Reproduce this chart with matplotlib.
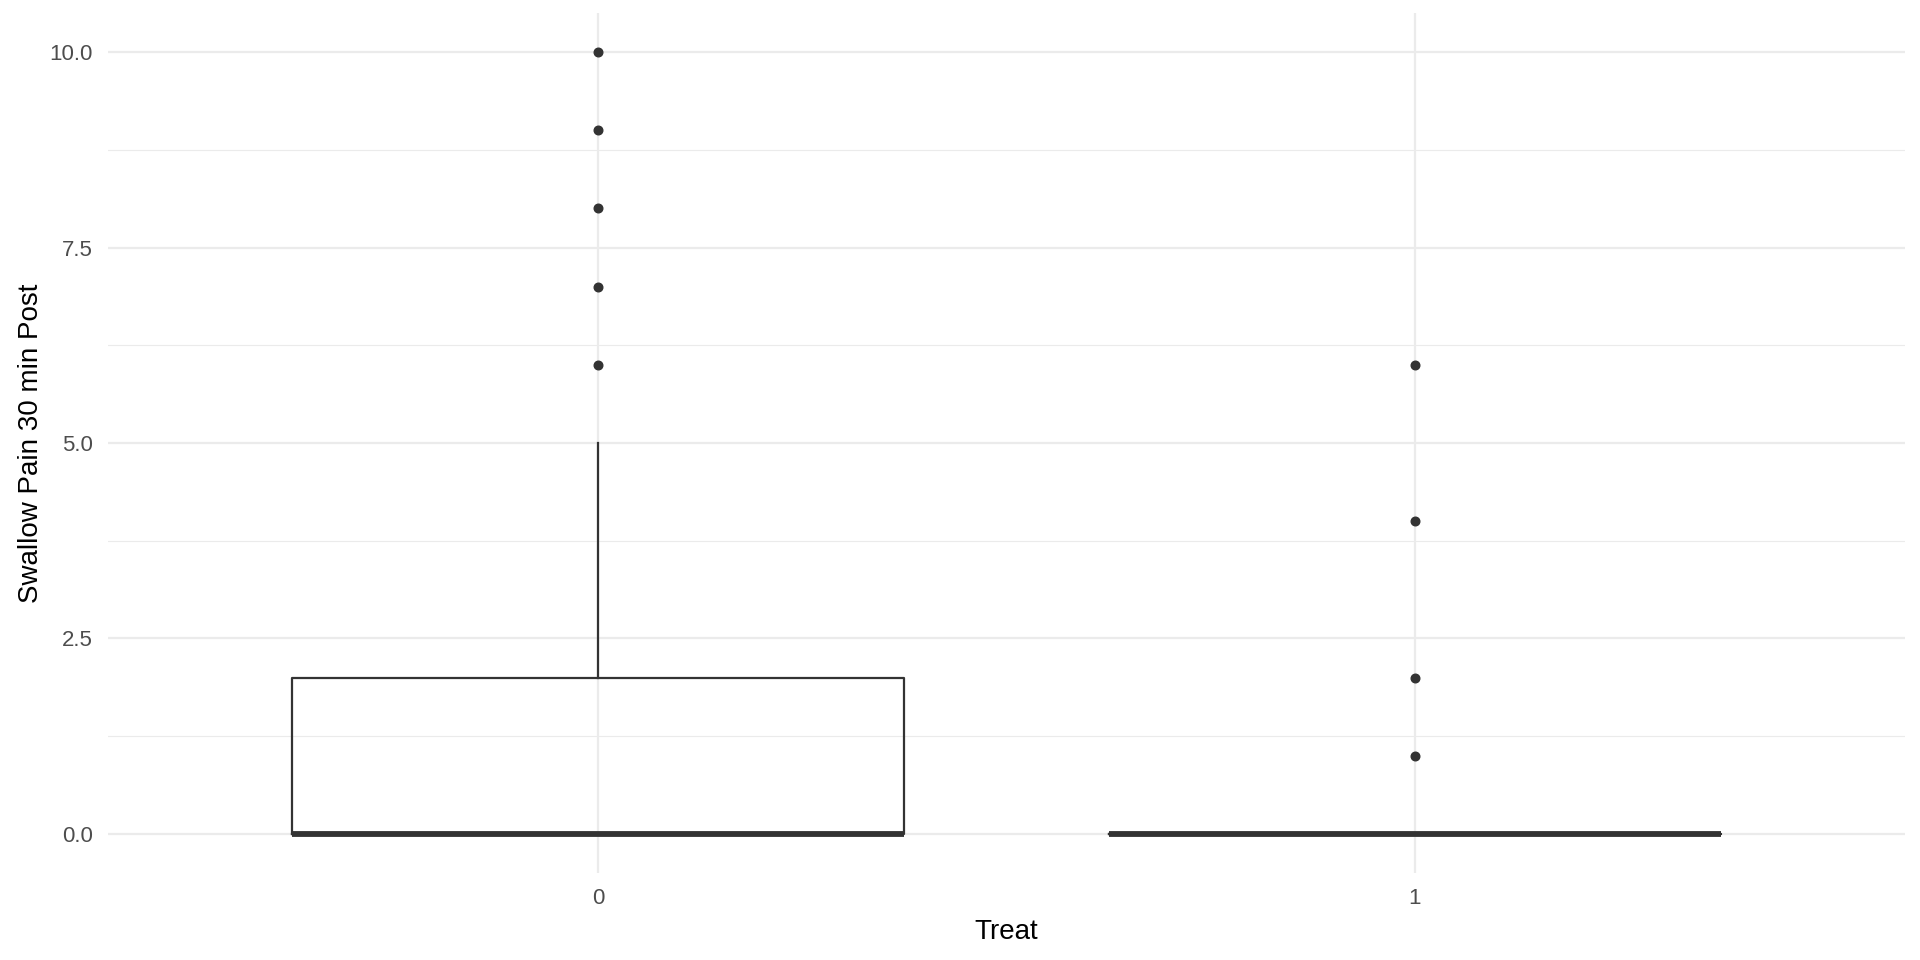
import matplotlib
matplotlib.use("Agg")
import matplotlib.pyplot as plt

# summary stats
groups = ["0", "1"]
q1 = [0, 0]
med = [0, 0]
q3 = [2, 0]
whislo = [0, 0]
whishi = [5, 0]
outliers = [[6, 7, 8, 9, 10], [1, 2, 4, 6]]

y_ticks = [0.0, 2.5, 5.0, 7.5, 10.0]
y_minor = [1.25, 3.75, 6.25, 8.75]

plt.rcParams['font.family'] = ['Liberation Sans', 'DejaVu Sans']

fig = plt.figure(figsize=(19.2, 9.6), dpi=100)
ax = fig.add_axes([108 / 1920, 87 / 960, 1797 / 1920, 860 / 960])

stats = []
for i, g in enumerate(groups):
    stats.append(dict(label=g, q1=q1[i], med=med[i], q3=q3[i],
                      whislo=whislo[i], whishi=whishi[i], fliers=outliers[i]))

ax.bxp(stats, positions=[1, 2], widths=0.75, showcaps=False,
       boxprops=dict(color='#333333', linewidth=1.6),
       whiskerprops=dict(color='#333333', linewidth=1.6),
       medianprops=dict(color='#333333', linewidth=4.2, solid_capstyle='butt'),
       flierprops=dict(marker='o', markerfacecolor='#333333', markeredgecolor='#333333',
                       markersize=6.2, linestyle='none'),
       zorder=3)

# theme_minimal style
ax.set_xlim(0.4, 2.6)
ax.set_ylim(-0.5, 10.5)
ax.set_yticks(y_ticks)
ax.set_yticklabels([f"{v:.1f}" for v in y_ticks])
ax.set_yticks(y_minor, minor=True)
ax.set_xticks([1, 2])
ax.set_xticklabels(groups)
for s in ax.spines.values():
    s.set_visible(False)
ax.grid(True, which='major', color='#EBEBEB', linewidth=1.6, zorder=0)
ax.grid(True, which='minor', axis='y', color='#EBEBEB', linewidth=0.8, zorder=0)
ax.set_axisbelow(True)
ax.tick_params(which='both', length=0, labelsize=16, labelcolor='#4D4D4D', pad=11)

ax.set_xlabel('Treat', fontsize=20, color='black', labelpad=7)
ax.set_ylabel('Swallow Pain 30 min Post', fontsize=20, color='black', labelpad=4)

fig.savefig('out.png', dpi=100, facecolor='white')
